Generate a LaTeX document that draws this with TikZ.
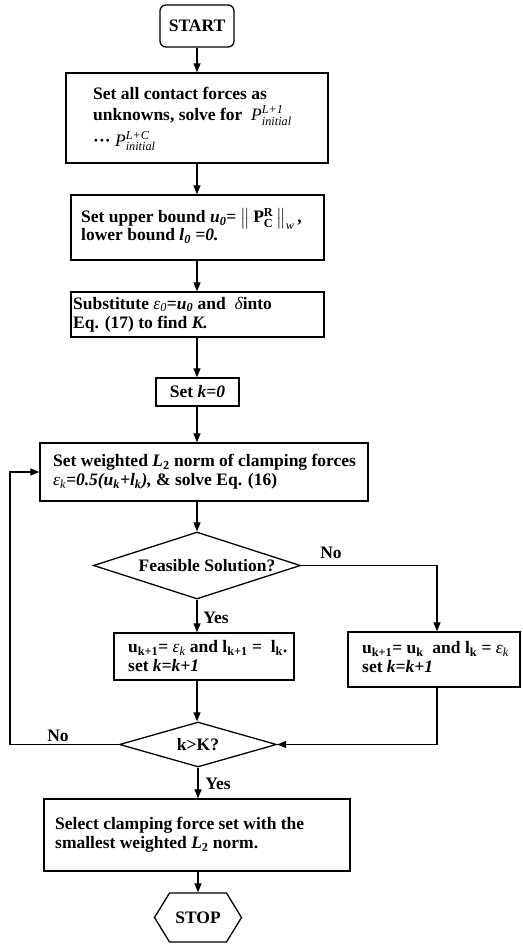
\documentclass[tikz,border=0pt]{standalone}
\usepackage{amsmath}
\usepackage{fontspec}
\setmainfont{Liberation Serif}
\usetikzlibrary{shapes.geometric,shapes.symbols,arrows.meta}
\newcommand\nbi[1]{{\fontseries{m}\itshape #1}}
\newcommand\bix[1]{{\bfseries\itshape #1}}
\newcommand\mt[1]{\text{\fontseries{m}\itshape #1}}
\begin{document}
\begin{tikzpicture}[x=1pt,y=-1pt,
  every node/.style={font=\fontsize{17.5}{19}\selectfont\bfseries},
  boxnode/.style={draw,line width=1.3pt,rectangle,inner sep=0pt},
  txt/.style={inner sep=0pt,align=left,anchor=west},
  lbl/.style={inner sep=0pt},
  dia/.style={draw,line width=1.3pt,diamond,inner sep=0pt},
  conn/.style={line width=1.2pt},
  arr/.style={conn,-{Triangle[length=9pt,width=7pt]}}]
\useasboundingbox (0,0) rectangle (522,944);

\node[boxnode,rounded corners=6pt,minimum width=74pt,minimum height=42pt] (start) at (197,26) {START};

\node[boxnode,minimum width=262pt,minimum height=90pt] (b1) at (197,118) {};
\node[txt] (b1t) at (93,119) {Set all contact forces as\\[2pt]
unknowns, solve for \ $\mt{P}^{\mt{L+1}}_{\mt{initial}}$\\[5pt]
··· $\mt{P}^{\mt{L+C}}_{\mt{initial}}$};

\node[boxnode,minimum width=253pt,minimum height=65pt] (b2) at (197.5,227.5) {};
\node[txt] (b2t) at (81,226) {Set upper bound \bix{u\textsubscript{0}}= $\left\|\,\mathbf{P}^{\mathbf{R}}_{\mathbf{C}}\,\right\|_{\mt{w}}$\,,\\[-1pt]
lower bound \bix{l\textsubscript{0} =0.}};

\node[boxnode,minimum width=253pt,minimum height=45pt] (b3) at (197.5,314.5) {};
\node[txt] (b3t) at (73,314.5) {Substitute \nbi{ε\textsubscript{0}}=\bix{u\textsubscript{0}} and \ \nbi{δ}into\\
Eq. (17) to find \bix{K.}};

\node[boxnode,minimum width=83pt,minimum height=28pt] (b4) at (197.5,392) {Set \bix{k=0}};

\node[boxnode,minimum width=328pt,minimum height=58pt] (b5) at (204,472) {};
\node[txt] (b5t) at (53,472) {Set weighted \bix{L}\textsubscript{2} norm of clamping forces\\
\nbi{ε\textsubscript{k}}\bix{=0.5(u\textsubscript{k}+l\textsubscript{k}),} \& solve Eq. (16)};

\node[dia,minimum width=207pt,minimum height=67pt] (d1) at (197,565.5) {};
\node[lbl] (d1t) at (207,565.5) {Feasible Solution?};

\node[boxnode,minimum width=180pt,minimum height=47pt] (by) at (204,656.5) {};
\node[txt] (byt) at (128,656.5) {u\textsubscript{k+1}= \nbi{ε\textsubscript{k}} and l\textsubscript{k+1} = \ l\textsubscript{k}.\\
set \bix{k=k+1}};

\node[boxnode,minimum width=172pt,minimum height=55pt] (bn) at (434,659.5) {};
\node[txt] (bnt) at (362,657) {u\textsubscript{k+1}= u\textsubscript{k} \ and l\textsubscript{k} = \nbi{ε\textsubscript{k}}\\
set \bix{k=k+1}};

\node[dia,minimum width=157pt,minimum height=45pt] (d2) at (198,744.5) {};
\node[lbl] (d2t) at (198,744.5) {k>K?};

\node[boxnode,minimum width=306pt,minimum height=72pt] (bf) at (197,835) {};
\node[txt] (bft) at (55,835) {Select clamping force set with the\\
smallest weighted \bix{L}\textsubscript{2} norm.};

\node[draw,line width=1.3pt,signal,signal to=west and east,signal pointer angle=117,
  minimum width=87pt,minimum height=49pt,inner sep=0pt] (stop) at (198,917.5) {STOP};

% labels
\node[lbl] (no1) at (331,553) {No};
\node[lbl] (yes1) at (216,618) {Yes};
\node[lbl] (no2) at (58,736) {No};
\node[lbl] (yes2) at (218,784) {Yes};

% coordinates
\coordinate (nx) at (437,565.5);
\coordinate (lx) at (10,744.5);

% connectors
\draw[arr] (start.south) -- (start.south |- b1.north);
\draw[arr] (b1.south -| start.south) -- (start.south |- b2.north);
\draw[arr] (b2.south -| start.south) -- (start.south |- b3.north);
\draw[arr] (b3.south -| start.south) -- (start.south |- b4.north);
\draw[arr] (b4.south -| start.south) -- (start.south |- b5.north);
\draw[arr] (b5.south -| start.south) -- (start.south |- d1.north);
\draw[arr] (d1.south) -- (d1.south |- by.north);
\draw[arr] (by.south -| d1.south) -- (d1.south |- d2.north);
\draw[arr] (d2.south) -- (d2.south |- bf.north);
\draw[arr] (bf.south -| d2.south) -- (d2.south |- stop.north);
\draw[arr] (d1.east) -- (nx) -- (nx |- bn.north);
\draw[arr] (nx |- bn.south) |- (d2.east);
\draw[arr] (d2.west) -- (lx) |- (b5.west);
\end{tikzpicture}
\end{document}
